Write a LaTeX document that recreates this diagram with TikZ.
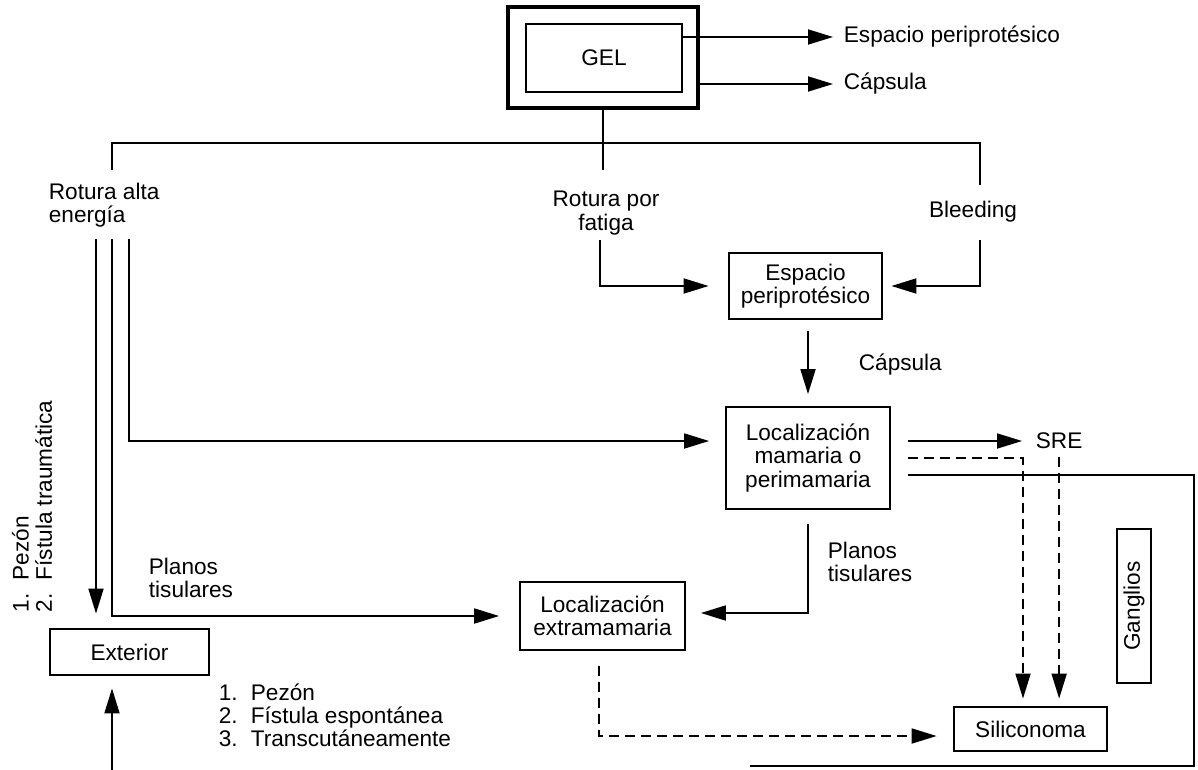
\documentclass[tikz,border=0pt]{standalone}
\usepackage{fontspec}
\setmainfont{Liberation Sans}
\usepackage{tikz}
\usetikzlibrary{arrows.meta,calc}

\newcommand{\itm}[1]{\makebox[32pt][l]{#1}}

\begin{document}
\begin{tikzpicture}[x=1pt,y=-1pt,line width=1.8pt,
		font=\fontsize{22.6}{23.2}\selectfont,
		every node/.style={inner sep=0pt},
		box/.style={draw,line width=1.8pt,align=center},
		boldbox/.style={draw,line width=2.8pt,align=center},
		lbl/.style={align=left,anchor=west},
		arr/.style={-{Triangle[length=25pt,width=15pt]}},
		dsh/.style={dash pattern=on 10pt off 6pt}]
		\useasboundingbox (0,0) rectangle (1198,770);
		\node[boldbox,line width=3.6pt,minimum width=190pt,minimum height=101pt] (gelout) at (603,57.5) {};
		\node[boldbox,minimum width=156pt,minimum height=68pt] (gelin) at (604,58) {GEL};
		\node[lbl] (tesp) at (843,37) {Espacio periprotésico};
		\node[lbl] (tcap) at (843,84) {Cápsula};
		\node[lbl] (alta) at (48,205) {Rotura alta\\energía};
		\node[align=center] (fatiga) at (606,213) {Rotura por\\fatiga};
		\node (bleed) at (973,212) {Bleeding};
		\node[boldbox,minimum width=153pt,minimum height=66pt] (espacio) at (805.5,286) {Espacio\\periprotésico};
		\node[lbl] (tcap2) at (858,365) {Cápsula};
		\node[box,minimum width=164pt,minimum height=102pt] (mamaria) at (808,458) {Localización\\mamaria o\\perimamaria};
		\node[lbl] (sre) at (1035,441) {SRE};
		\node[lbl] (planos2) at (827,562) {Planos\\tisulares};
		\node[lbl] (planos1) at (148,578) {Planos\\tisulares};
		\node[box,minimum width=165pt,minimum height=68pt] (extra) at (602.5,616) {Localización\\extramamaria};
		\node[boldbox,minimum width=159pt,minimum height=46pt] (exterior) at (129.5,652) {Exterior};
		\node[lbl] (vias) at (218,715) {\itm{1.}Pezón\\\itm{2.}Fístula espontánea\\\itm{3.}Transcutáneamente};
		\node[rotate=90,anchor=south west,align=left] (trauma) at (53,613) {\itm{1.}Pezón\\\itm{2.}Fístula traumática};
		\node[box,rotate=90,minimum width=154pt,minimum height=34pt] (ganglios) at (1134,606) {Ganglios};
		\node[boldbox,minimum width=153pt,minimum height=44pt] (silic) at (1030.5,729) {Siliconoma};
		\coordinate (stem) at (603,170);
		\coordinate (lft) at (112,170);
		\coordinate (rgt) at (980,185);
		\coordinate (fat) at (600,240);
		\coordinate (bld) at (980,240);
		\coordinate (la) at (96,239);
		\coordinate (lb) at (112,239);
		\coordinate (lc) at (129,239);
		\coordinate (lo) at (112,770);
		\coordinate (rb) at (1194,766);
		\coordinate (lbot) at (750,766);
		\draw[arr,shorten >=10pt] ($(gelin.east)+(0,-21)$) -- (tesp.west);
		\draw[arr,shorten >=10pt] (gelout.east |- tcap.west) -- (tcap.west);
		\draw (gelout.south) -- (stem);
		\draw (lft) -- ++(0,-27) -| (rgt);
		\draw[arr,shorten >=19pt] (fat) |- (espacio.west);
		\draw[arr,shorten >=8pt] (bld) |- (espacio.east);
		\draw[arr,shorten <=11pt,shorten >=12pt] (mamaria.north |- espacio.south) -- (mamaria.north);
		\draw[arr,shorten >=14pt] (la) -- (la |- exterior.north);
		\draw[arr,shorten >=20pt] (lb) |- (extra.west);
		\draw[arr,shorten >=16pt] (lc) |- ($(mamaria.west)+(0,-17)$);
		\draw[arr,shorten >=12pt] (lo) -- (lo |- exterior.south);
		\draw[arr,shorten <=14pt,shorten >=15pt] (mamaria.south) |- ($(extra.east)+(0,-3)$);
		\draw[arr,dsh,shorten <=15pt,shorten >=16pt] ($(extra.south)+(-3.5,0)$) |- ($(silic.west)+(0,7)$);
		\draw[arr,shorten <=17pt,shorten >=13pt] ($(mamaria.east)+(0,-17)$) -- (sre.west);
		\draw[arr,dsh,shorten <=17pt,shorten >=7pt] (mamaria.east) -| ($(silic.north)+(-7.5,0)$);
		\draw[arr,dsh,shorten <=7pt,shorten >=7pt] (sre.south) -- (sre.south |- silic.north);
		\draw[shorten <=17pt] ($(mamaria.east)+(0,17)$) -| (rb) -- (lbot);
	\end{tikzpicture}
\end{document}
